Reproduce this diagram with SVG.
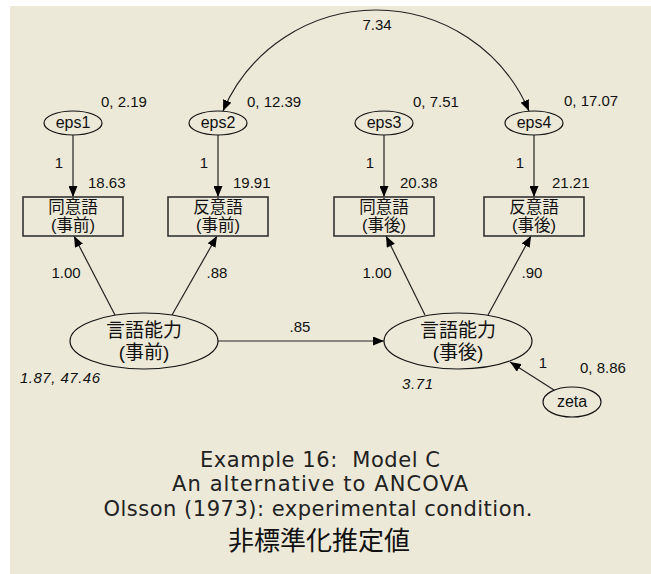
<svg xmlns="http://www.w3.org/2000/svg" width="651" height="574" viewBox="0 0 651 574">
<defs>
<marker id="ah" markerUnits="userSpaceOnUse" markerWidth="11" markerHeight="9" viewBox="0 0 11 9" refX="11" refY="4.5" orient="auto-start-reverse"><path d="M0,0 L11,4.5 L0,9 Z" fill="#000"/></marker>
</defs>
<style>
.node ellipse{fill:none;stroke:#111;stroke-width:1.2}
.node rect{fill:none;stroke:#333;stroke-width:1.6}
text{font-family:"Liberation Sans","Noto Sans CJK JP",sans-serif;fill:#111}
.lbl{font-size:15px}
.mid{text-anchor:middle}
.nm{font-size:16px;text-anchor:middle}
.jp{font-size:16.5px;text-anchor:middle}
.jpl{font-size:19px;text-anchor:middle}
.it{font-size:15px;font-style:italic}
.cap{font-family:"DejaVu Sans","Noto Sans CJK JP",sans-serif;font-size:21px;text-anchor:middle;fill:#222}
.capj{font-size:26px;text-anchor:middle}
.conn line,.conn path{stroke:#222;stroke-width:1.2;fill:none}
</style>
<rect width="651" height="574" fill="#fff"/>
<rect x="10" y="6" width="641" height="568" fill="#ECE9D8"/>

<g id="connectors" class="conn">
<path d="M223,111 A166.4,166.4 0 0 1 529,111" marker-start="url(#ah)" marker-end="url(#ah)"/>
<line x1="73" y1="135" x2="73" y2="197" marker-end="url(#ah)"/>
<line x1="218" y1="135" x2="218" y2="197" marker-end="url(#ah)"/>
<line x1="384" y1="135" x2="384" y2="197" marker-end="url(#ah)"/>
<line x1="534" y1="135" x2="534" y2="197" marker-end="url(#ah)"/>
<line x1="115" y1="315" x2="74" y2="236" marker-end="url(#ah)"/>
<line x1="172" y1="315" x2="217" y2="236" marker-end="url(#ah)"/>
<line x1="425" y1="315" x2="386" y2="236" marker-end="url(#ah)"/>
<line x1="488" y1="315" x2="531" y2="236" marker-end="url(#ah)"/>
<line x1="218" y1="341" x2="384" y2="341" marker-end="url(#ah)"/>
<line x1="554" y1="390" x2="510" y2="362" marker-end="url(#ah)"/>
</g>

<g id="eps1" class="node"><ellipse cx="73" cy="123" rx="29" ry="12"/><text class="nm" x="73" y="128">eps1</text></g>
<g id="eps2" class="node"><ellipse cx="218" cy="123" rx="29" ry="12"/><text class="nm" x="218" y="128">eps2</text></g>
<g id="eps3" class="node"><ellipse cx="384" cy="123" rx="29" ry="12"/><text class="nm" x="384" y="128">eps3</text></g>
<g id="eps4" class="node"><ellipse cx="534" cy="123" rx="29" ry="12"/><text class="nm" x="534" y="128">eps4</text></g>

<g id="syn_pre" class="node"><rect x="23" y="197" width="100" height="39"/><text class="jp" x="73" y="213">同意語</text><text class="jp" x="73" y="231">(事前)</text></g>
<g id="ant_pre" class="node"><rect x="168" y="197" width="100" height="39"/><text class="jp" x="218" y="213">反意語</text><text class="jp" x="218" y="231">(事前)</text></g>
<g id="syn_post" class="node"><rect x="334" y="197" width="100" height="39"/><text class="jp" x="384" y="213">同意語</text><text class="jp" x="384" y="231">(事後)</text></g>
<g id="ant_post" class="node"><rect x="484" y="197" width="100" height="39"/><text class="jp" x="534" y="213">反意語</text><text class="jp" x="534" y="231">(事後)</text></g>

<g id="verbal_pre" class="node"><ellipse cx="144" cy="341" rx="74" ry="28"/><text class="jpl" x="144" y="337">言語能力</text><text class="jpl" x="144" y="359">(事前)</text></g>
<g id="verbal_post" class="node"><ellipse cx="458" cy="341" rx="74" ry="28"/><text class="jpl" x="458" y="337">言語能力</text><text class="jpl" x="458" y="359">(事後)</text></g>
<g id="zeta" class="node"><ellipse cx="572" cy="402" rx="29" ry="15"/><text class="nm" x="572" y="407">zeta</text></g>

<g id="labels" class="lbl">
<text class="mid" x="377" y="30">7.34</text>
<text x="101" y="107">0, 2.19</text>
<text x="247" y="107">0, 12.39</text>
<text x="413" y="107">0, 7.51</text>
<text x="564" y="106">0, 17.07</text>
<text class="mid" x="59" y="168">1</text>
<text class="mid" x="204" y="168">1</text>
<text class="mid" x="370" y="168">1</text>
<text class="mid" x="520" y="168">1</text>
<text x="88" y="188">18.63</text>
<text x="233" y="188">19.91</text>
<text x="400" y="188">20.38</text>
<text x="552" y="188">21.21</text>
<text class="mid" x="66" y="278">1.00</text>
<text class="mid" x="217" y="278">.88</text>
<text class="mid" x="377" y="278">1.00</text>
<text class="mid" x="532" y="278">.90</text>
<text class="mid" x="300" y="332">.85</text>
<text class="it" x="20" y="383" textLength="80">1.87, 47.46</text>
<text class="it" x="402" y="389" textLength="31">3.71</text>
<text class="mid" x="543" y="368">1</text>
<text x="580" y="373">0, 8.86</text>
</g>

<g id="caption">
<text class="cap" x="320" y="467" textLength="240" xml:space="preserve">Example 16:  Model C</text>
<text class="cap" x="320" y="491" textLength="296">An alternative to ANCOVA</text>
<text class="cap" x="318" y="516" textLength="429">Olsson (1973): experimental condition.</text>
<text class="capj" x="319" y="550" textLength="182">非標準化推定値</text>
</g>
</svg>
